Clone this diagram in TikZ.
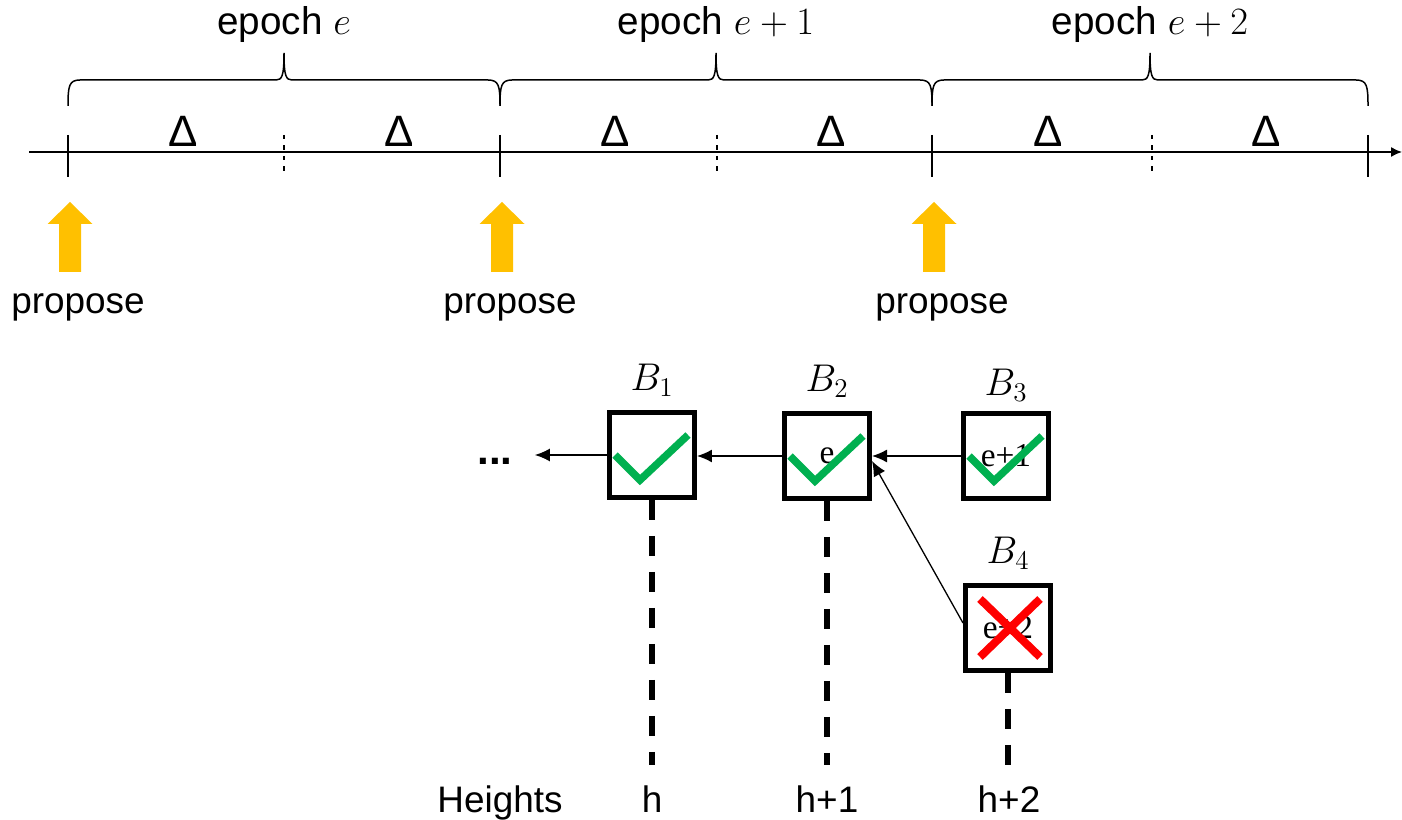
\RequirePackage{fix-cm}
\documentclass[tikz,border=0pt]{standalone}
\usepackage[no-math]{fontspec}
\setmainfont{Liberation Sans}
\newfontfamily\blockfont{Liberation Serif}
\usetikzlibrary{calc,positioning,arrows.meta}
\definecolor{proposeorange}{HTML}{FFC000}
\definecolor{okgreen}{HTML}{00B050}
\definecolor{badred}{HTML}{FF0000}
\tikzset{
  axisline/.style={line width=0.03cm},
  epochbrace/.style={line width=0.03cm},
  epochlabel/.style={anchor=base, inner sep=0pt, font=\fontsize{22}{26}\selectfont},
  slot/.style={anchor=base, inner sep=0pt, font=\fontsize{25}{30}\selectfont},
  proposelabel/.style={anchor=base, inner sep=0pt, font=\fontsize{21}{25}\selectfont},
  block/.style={draw, line width=0.1cm, minimum size=1.7cm, inner sep=0pt,
    font=\blockfont\fontsize{19}{21}\selectfont},
  blabel/.style={inner sep=0pt, font=\fontsize{22}{26}\selectfont},
  link/.style={line width=0.026cm, -{Latex[length=0.3cm,width=0.26cm]}},
  height/.style={line width=0.12cm, dash pattern=on 0.4cm off 0.32cm},
  okmark/.style={okgreen, line width=0.15cm},
  badmark/.style={badred, line width=0.16cm},
  heightlabel/.style={anchor=base, inner sep=0pt, font=\fontsize{21}{25}\selectfont}
}

\begin{document}
\begin{tikzpicture}[x=0.02cm,y=-0.02cm]
  \useasboundingbox (0,0) rectangle (1402,820);

  % time axis with epoch boundaries and half-epoch marks
  \draw[axisline,-{Latex[length=0.22cm,width=0.2cm]}] (29,152) -- (1402,152);
  \foreach \x in {68,500,932,1368}
    \draw[axisline] (\x,135) -- (\x,177);
  \foreach \x in {284,717,1152}
    \draw[axisline,dash pattern=on 0.09cm off 0.12cm] (\x,135) -- (\x,172);

  % one brace, two Delta slots and one proposal per epoch
  \foreach \a/\b/\ep [count=\i] in {68/500/$e$, 500/932/$e+1$, 932/1368/$e+2$}{
    \pgfmathsetmacro{\m}{(\a+\b)/2}
    \pgfmathsetmacro{\c}{\a+2}
    \draw[epochbrace] (\a,106) .. controls (\a,86) and (\a+1,80) .. (\a+12,80)
      -- (\m-8,80) .. controls (\m-2,80) and (\m,76) .. (\m,53)
      .. controls (\m,76) and (\m+2,80) .. (\m+8,80)
      -- (\b-12,80) .. controls (\b-1,80) and (\b,86) .. (\b,106);
    \node[epochlabel] (ep\i) at (\m,35) {epoch \ep};
    \node[slot] (da\i) at ({(\a+\m)/2+7},147) {Δ};
    \node[slot] (db\i) at ({(\m+\b)/2+7},147) {Δ};
    \fill[proposeorange] (\c-11,272) -- (\c-11,224) -- (\c-22.5,224) -- (\c,202)
      -- (\c+22.5,224) -- (\c+11,224) -- (\c+11,272) -- cycle;
    \node[proposelabel] (pr\i) at (\a+10,314) {propose};
  }

  % blocks of the chain
  \node[block] (b1) at (652,455) {};
  \node[block] (b2) at (827,456) {e};
  \node[block] (b3) at (1006,456) {e+1};
  \node[block] (b4) at (1008,628) {e+2};
  \node[blabel, above=0.26cm of b1] (l1) {$B_1$};
  \node[blabel, above=0.26cm of b2] (l2) {$B_2$};
  \node[blabel, above=0.18cm of b3] (l3) {$B_3$};
  \node[blabel, above=0.26cm of b4] (l4) {$B_4$};
  \node[inner ysep=0pt, inner xsep=0.44cm, font=\bfseries\fontsize{24}{28}\selectfont]
    (more) at (495,461) {...};

  \draw[link] (b1.west) -- (b1.west -| more.east);
  \draw[link] (b2.west) -- (b2.west -| b1.east);
  \draw[link] (b3.west) -- (b3.west -| b2.east);
  \draw[link] ([yshift=0.1cm]b4.west) -- ([yshift=-0.1cm]b2.east);

  % votes
  \foreach \b in {b1,b2,b3}
    \draw[okmark] ($(\b)+(-37,0)$) -- ++(25,25) -- ++(48,-45);
  \draw[badmark] ($(b4)+(-28,-29)$) -- ++(60,58) ($(b4)+(32,-29)$) -- ++(-60,58);

  % heights
  \coordinate (base) at (0,765);
  \foreach \b in {b1,b2,b4}
    \draw[height] (\b.south) -- (\b.south |- base);
  \node[heightlabel] (hts) at (500,812) {Heights};
  \node[heightlabel] (h1) at (652,812) {h};
  \node[heightlabel] (h2) at (827,812) {h+1};
  \node[heightlabel] (h3) at (1009,812) {h+2};
\end{tikzpicture}
\end{document}
